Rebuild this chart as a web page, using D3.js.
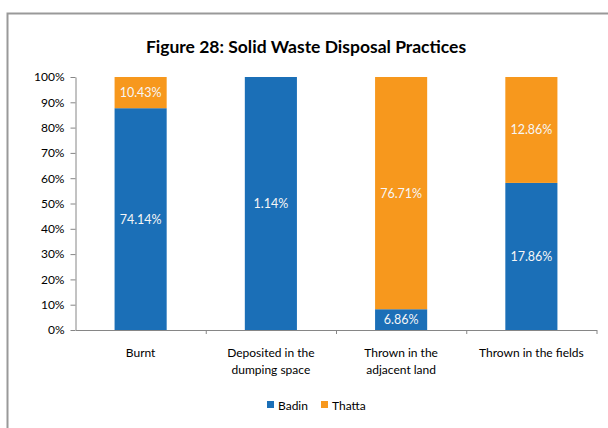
<!DOCTYPE html>
<html><head><meta charset="utf-8">
<script src="https://cdn.jsdelivr.net/npm/d3@7"></script>
<style>body{margin:0;background:#fff}svg{display:block}text{font-family:Lato,"Open Sans",sans-serif}</style>
</head><body>
<svg id="c" width="608" height="428"></svg>
<script>
const categories = [["Burnt"],["Deposited in the","dumping space"],["Thrown in the","adjacent land"],["Thrown in the fields"]];
const seriesNames = ["Badin","Thatta"];
const badin = [74.14, 1.14, 6.86, 17.86];
const thatta = [10.43, 0, 76.71, 12.86];
const yTicks = [0,10,20,30,40,50,60,70,80,90,100];
const colors = ["#1B6FB7","#F7981D"];

const svg = d3.select("#c");
// outer frame
svg.append("path").attr("d","M7.5,428 V13.5 H608").attr("fill","none").attr("stroke","#999").attr("stroke-width",2);

const m = {l:75.5, r:596.5, t:77, b:330};
const x = d3.scaleBand().domain(d3.range(categories.length)).range([m.l,m.r]).paddingInner(0.6).paddingOuter(0.3);
const y = d3.scaleLinear().domain([0,100]).range([m.b,m.t]);

svg.append("text").attr("x",306).attr("y",53).attr("text-anchor","middle")
  .attr("font-size",17.5).attr("font-weight","bold").attr("fill","#000")
  .text("Figure 28: Solid Waste Disposal Practices");

const rows = categories.map((c,i)=>({i, Badin: badin[i], Thatta: thatta[i]}));
const stack = d3.stack().keys(seriesNames).offset(d3.stackOffsetExpand);
const layers = stack(rows);

layers.forEach((layer, li) => {
  const g = svg.append("g");
  layer.forEach((d, j) => {
    const v = rows[j][seriesNames[li]];
    if (v <= 0) return;
    const y0 = y(d[0]*100), y1 = y(d[1]*100);
    g.append("rect").attr("x", x(j)).attr("width", x.bandwidth())
      .attr("y", y1).attr("height", y0 - y1).attr("fill", colors[li]);
    g.append("text").attr("x", x(j)+x.bandwidth()/2).attr("y", (y0+y1)/2+4.5)
      .attr("text-anchor","middle").attr("font-size",12.5).attr("fill","#f6f6f6")
      .text(v.toFixed(2)+"%");
  });
});

// y axis
const ya = svg.append("g").attr("transform",`translate(${m.l},0)`)
  .call(d3.axisLeft(y).tickValues(yTicks).tickFormat(d=>d+"%").tickSize(5).tickSizeOuter(0));
ya.select(".domain").attr("stroke","#868686");
ya.selectAll(".tick line").attr("stroke","#868686");
ya.selectAll(".tick text").attr("font-size",12).attr("fill","#000").attr("x",-11).attr("font-family","Lato,sans-serif");

// x axis
const xb = d3.scaleLinear().domain([0,categories.length]).range([m.l,m.r]);
const xa = svg.append("g").attr("transform",`translate(0,${m.b})`)
  .call(d3.axisBottom(xb).tickValues(d3.range(1,categories.length+1)).tickFormat("").tickSize(4).tickSizeOuter(0));
xa.select(".domain").attr("stroke","#868686");
xa.selectAll(".tick line").attr("stroke","#868686");

categories.forEach((lines,i)=>{
  const t = svg.append("text").attr("x", x(i)+x.bandwidth()/2).attr("y",357)
    .attr("text-anchor","middle").attr("font-size",12).attr("fill","#000");
  lines.forEach((l,k)=>t.append("tspan").attr("x", x(i)+x.bandwidth()/2).attr("dy", k?16.5:0).text(l));
});

// legend
const lg = svg.append("g");
const legX = [267, 321];
seriesNames.forEach((s,i)=>{
  lg.append("rect").attr("x",legX[i]).attr("y",401).attr("width",7).attr("height",7).attr("fill",colors[i]);
  lg.append("text").attr("x",legX[i]+11).attr("y",409.5).attr("font-size",12).attr("fill","#000").text(s);
});
</script>
</body></html>
